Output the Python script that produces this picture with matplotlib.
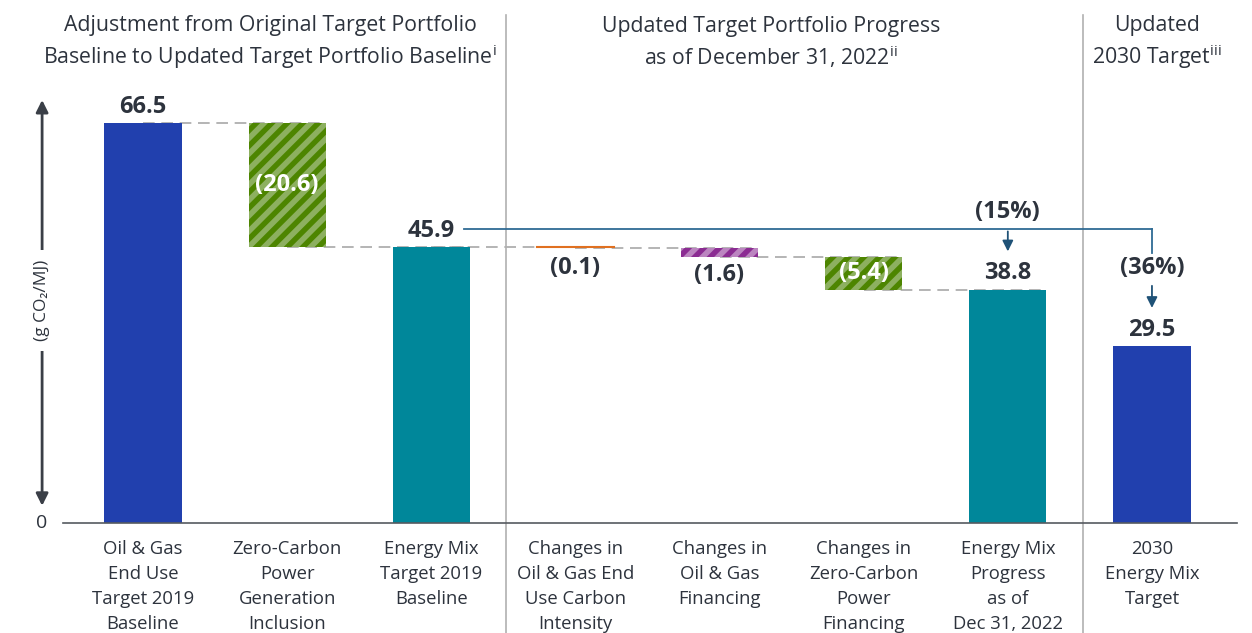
import matplotlib
matplotlib.use("Agg")
import matplotlib.pyplot as plt
from matplotlib.lines import Line2D
from matplotlib.transforms import IdentityTransform

plt.rcParams['font.family'] = ['Open Sans', 'DejaVu Sans']
plt.rcParams['mathtext.fontset'] = 'custom'
plt.rcParams['mathtext.rm'] = 'Open Sans'

# data
categories = ["Oil & Gas\nEnd Use\nTarget 2019\nBaseline",
              "Zero-Carbon\nPower\nGeneration\nInclusion",
              "Energy Mix\nTarget 2019\nBaseline",
              "Changes in\nOil & Gas End\nUse Carbon\nIntensity",
              "Changes in\nOil & Gas\nFinancing",
              "Changes in\nZero-Carbon\nPower\nFinancing",
              "Energy Mix\nProgress\nas of\nDec 31, 2022",
              "2030\nEnergy Mix\nTarget"]
bottoms = [0, 45.9, 0, 45.8, 44.2, 38.8, 0, 0]
tops = [66.5, 66.5, 45.9, 45.9, 45.8, 44.2, 38.8, 29.5]
value_labels = ["66.5", "(20.6)", "45.9", "(0.1)", "(1.6)", "(5.4)", "38.8", "29.5"]
headers = ["Adjustment from Original Target Portfolio\nBaseline to Updated Target Portfolio Baseline$^{\\rm i}$",
           "Updated Target Portfolio Progress\nas of December 31, 2022$^{\\rm ii}$",
           "Updated\n2030 Target$^{\\rm iii}$"]
pct_labels = ["(15%)", "(36%)"]

dark = "#2d333d"
face = ["#2140ae", "#4d8500", "#00879a", "#e07020", "#8b2c92", "#4d8500", "#00879a", "#2140ae"]
stripe_col = [None, "#8db060", None, None, "#bb85c0", "#8db060", None, None]

fig = plt.figure(figsize=(12.52, 6.33), dpi=100)
ax = fig.add_axes([63 / 1252, 110 / 633, 1174 / 1252, 433 / 633])
ax.set_xlim(-0.555, 7.59)
ax.set_ylim(0, 72)
ax.axis('off')

w = 0.535
x = list(range(len(categories)))
for i in x:
    h = tops[i] - bottoms[i]
    if i == 3:
        ax.plot([i - w / 2, i + w / 2], [45.9, 45.9], color=face[i], lw=1.5, zorder=3)
        continue
    bar = ax.bar(i, h, bottom=bottoms[i], width=w, color=face[i], linewidth=0, zorder=3)[0]
    if stripe_col[i]:
        # diagonal stripes clipped to the bar (pixel space)
        (px0, py0), (px1, py1) = ax.transData.transform([(i - w / 2, bottoms[i]), (i + w / 2, tops[i])])
        period = 15.5
        c = px0 - (py1 - py0) - 4
        while c < px1 + 4:
            ln = Line2D([c, c + (py1 - py0) + 8], [py0 - 4, py1 + 4], transform=IdentityTransform(),
                        color=stripe_col[i], lw=4.0, solid_capstyle='butt', zorder=3.5)
            ax.add_line(ln)
            ln.set_clip_path(bar)
            c += period

# dashed connectors
levels = [66.5, 45.9, 45.9, 45.8, 44.2, 38.8]
for i in range(6):
    ax.plot([i, i + 1 + w / 2], [levels[i], levels[i]], color="#a8a8a8", lw=1.2,
            dashes=(7, 4), zorder=2)

# baseline
ax.plot([-0.555, 7.59], [0, 0], color="#555a60", lw=1.2, clip_on=False, zorder=4)
ax.text(-0.70, 0, "0", ha='center', va='center', fontsize=14, color=dark)

# y axis arrow
ax.annotate("", xy=(-0.70, 70.8), xytext=(-0.70, 36),
            arrowprops=dict(arrowstyle='-|>', color="#3a3f47", lw=2, mutation_scale=18),
            annotation_clip=False)
ax.annotate("", xy=(-0.70, 2.4), xytext=(-0.70, 36),
            arrowprops=dict(arrowstyle='-|>', color="#3a3f47", lw=2, mutation_scale=18),
            annotation_clip=False)
ax.text(-0.70, 37, "(g CO₂/MJ)", rotation=90, ha='center', va='center', fontsize=12.5,
        color=dark, bbox=dict(facecolor='white', edgecolor='none', pad=7), zorder=5)

# value labels
label_y = [69.2, 56.2, 48.5, 42.4, 41.2, 41.5, 41.6, 32.1]
for i in x:
    col = 'white' if i in (1, 5) else dark
    ax.text(i, label_y[i], value_labels[i], ha='center', va='center', fontsize=17,
            fontweight='bold', color=col, zorder=6)

# percentage connector
line_col = "#2f6b94"
ax.plot([2.23, 7], [48.9, 48.9], color=line_col, lw=1.3, zorder=4)
ax.plot([7, 7], [48.9, 44.9], color=line_col, lw=1.3, zorder=4)
ax.annotate("", xy=(6, 44.7), xytext=(6, 48.95),
            arrowprops=dict(arrowstyle='-|>', color="#1f5277", lw=1.3, mutation_scale=16))
ax.annotate("", xy=(7, 35.3), xytext=(7, 39.9),
            arrowprops=dict(arrowstyle='-|>', color="#1f5277", lw=1.3, mutation_scale=16))
ax.text(6, 51.7, pct_labels[0], ha='center', va='center', fontsize=17, fontweight='bold', color=dark)
ax.text(7, 42.4, pct_labels[1], ha='center', va='center', fontsize=17, fontweight='bold', color=dark)

# category labels
for i in x:
    ax.text(i, -2.9, categories[i], ha='center', va='top', fontsize=13.3, color=dark,
            linespacing=1.5)

# section separators
for sx in (2.52, 6.52):
    ax.plot([sx, sx], [-18.5, 84.5], color="#b0b0b0", lw=1.2, clip_on=False)

# headers
hx = [270, 771, 1157]
for hxi, t in zip(hx, headers):
    fig.text(hxi / 1252, 1 - 43 / 633, t, ha='center', va='center', fontsize=15.3,
             color=dark, linespacing=1.3)

fig.savefig("out.png", dpi=100)
